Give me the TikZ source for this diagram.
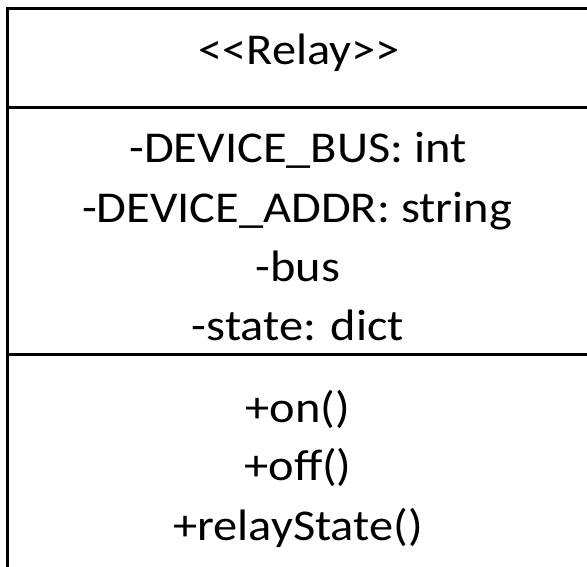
\documentclass[tikz,border=0pt]{standalone}
\usepackage{graphicx}
\usepackage{fontspec}
\setmainfont{Carlito}[Ligatures=TeXOff]
\newcommand{\wide}[1]{\scalebox{1.1}[1]{#1}}
\begin{document}
\begin{tikzpicture}[x=1pt,y=-1pt,
  umlline/.style={line width=3pt, draw=black},
  umltext/.style={anchor=base, inner sep=0pt, font=\fontsize{44}{52}\selectfont}]
\useasboundingbox (0,0) rectangle (587,567);
\clip (0,0) rectangle (587,567);
% class box, running past the right and bottom edges
\draw[umlline] (7,9) rectangle (590,600);
\draw[umlline] (7,108) -- (590,108);
\draw[umlline] (7,354) -- (590,354);
% name compartment
\node[umltext] (name) at (299,65) {\wide{<<Relay>>}};
% attributes
\node[umltext] (a1) at (298,163) {\wide{-DEVICE\_BUS: int}};
\node[umltext] (a2) at (297,223) {\wide{-DEVICE\_ADDR: string}};
\node[umltext] (a3) at (298,281) {\wide{-bus}};
\node[umltext] (a4) at (298,340) {\wide{-state: dict}};
% operations
\node[umltext] (m1) at (298,422) {\wide{+on()}};
\node[umltext] (m2) at (298,480) {\wide{+off()}};
\node[umltext] (m3) at (298,540) {\wide{+relayState()}};
\end{tikzpicture}
\end{document}
